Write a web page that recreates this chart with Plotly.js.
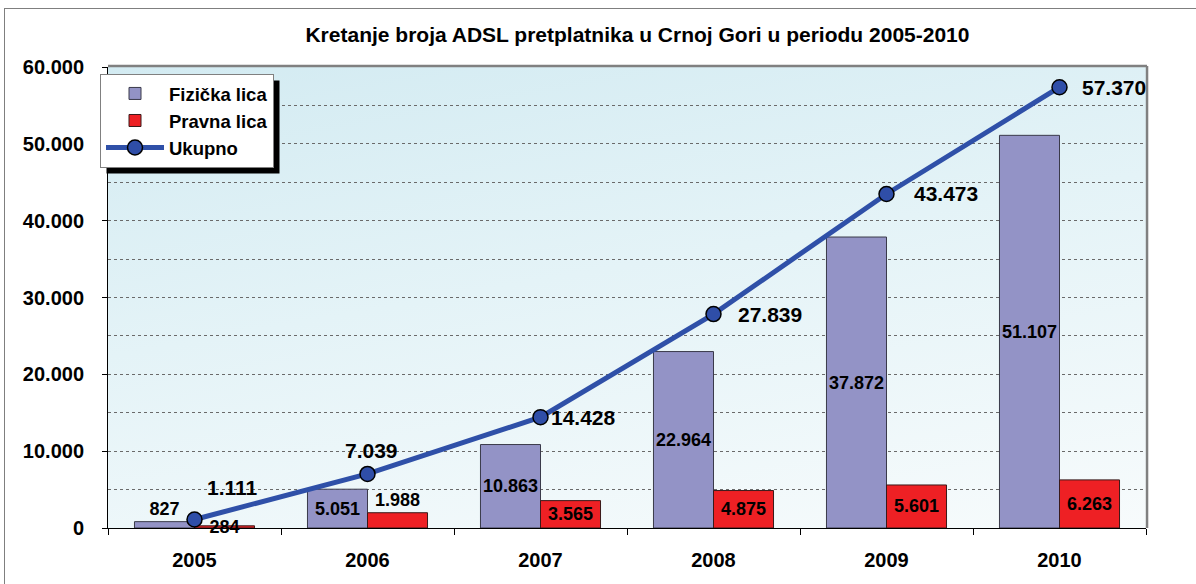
<!DOCTYPE html>
<html>
<head>
<meta charset="utf-8">
<script src="https://cdn.plot.ly/plotly-3.0.1.min.js"></script>
<style>
  html, body { margin:0; padding:0; background:#ffffff; width:1196px; height:584px; overflow:hidden; }
  #frame { position:absolute; left:4px; top:8px; width:1400px; height:800px; border:1.5px solid #7f7f7f; box-sizing:border-box; }
  #grad { position:absolute; left:108px; top:67px; width:1038px; height:461px;
          background: linear-gradient(170deg, #d3ebf2 0%, #e4f3f7 45%, #f7fbfc 100%); }
  #chart { position:absolute; left:0; top:0; width:1196px; height:584px; }
</style>
</head>
<body>
<div id="frame"></div>
<div id="grad"></div>
<div id="chart"></div>
<script>
const years = ['2005', '2006', '2007', '2008', '2009', '2010'];
const fizicka = [827, 5051, 10863, 22964, 37872, 51107];
const pravna = [284, 1988, 3565, 4875, 5601, 6263];
const ukupno = [1111, 7039, 14428, 27839, 43473, 57370];
const seriesNames = ['Fizička lica', 'Pravna lica', 'Ukupno'];
const titleText = 'Kretanje broja ADSL pretplatnika u Crnoj Gori u periodu 2005-2010';

const FONT = 'Liberation Sans, Arial, sans-serif';

// label placement styles (not data)
const fizTextPos = ['outside', 'inside', 'inside', 'inside', 'inside', 'inside'];
const pravTextPos = ['inside', 'outside', 'inside', 'inside', 'inside', 'inside'];
const lineLabelStyle = [
  { xanchor: 'center', xshift: 38, yshift: 32 },
  { xanchor: 'center', xshift: 4, yshift: 23 },
  { xanchor: 'left', xshift: 8, yshift: 0 },
  { xanchor: 'left', xshift: 22, yshift: 0 },
  { xanchor: 'left', xshift: 25, yshift: 0 },
  { xanchor: 'left', xshift: 20, yshift: 0 }
];

function fmt(v) {
  return String(Math.round(v)).replace(/\B(?=(\d{3})+(?!\d))/g, '.');
}

function makeTraces() {
  return [
    {
      type: 'bar', name: seriesNames[0], x: years.slice(), y: fizicka.slice(),
      marker: { color: '#9393c6', line: { color: '#3a3a4a', width: 1 } },
      texttemplate: '%{y:,.0f}', textposition: fizTextPos.slice(),
      insidetextanchor: 'middle', constraintext: 'none', textangle: 0,
      textfont: { family: FONT, size: 18, color: '#000', weight: 'bold' },
      cliponaxis: false, hoverinfo: 'skip'
    },
    {
      type: 'bar', name: seriesNames[1], x: years.slice(), y: pravna.slice(),
      marker: { color: '#ee2024', line: { color: '#3a1a1a', width: 1 } },
      texttemplate: '%{y:,.0f}', textposition: pravTextPos.slice(),
      insidetextanchor: 'middle', constraintext: 'none', textangle: 0,
      textfont: { family: FONT, size: 18, color: '#000', weight: 'bold' },
      cliponaxis: false, hoverinfo: 'skip'
    },
    {
      type: 'scatter', mode: 'lines+markers', name: seriesNames[2], x: years.slice(), y: ukupno.slice(),
      line: { color: '#2f50a8', width: 5 },
      marker: { symbol: 'circle', size: 15, color: '#2f4ea8', line: { color: '#000', width: 1.5 } },
      cliponaxis: false, hoverinfo: 'skip'
    }
  ];
}

function makeLayout(extraShapes) {
  const annotations = years.map((yr, i) => ({
    x: i, y: ukupno[i], xref: 'x', yref: 'y',
    text: fmt(ukupno[i]), showarrow: false,
    xanchor: lineLabelStyle[i].xanchor, yanchor: 'middle',
    xshift: lineLabelStyle[i].xshift, yshift: lineLabelStyle[i].yshift,
    font: { family: FONT, size: 21, color: '#000', weight: 'bold' }
  }));
  return {
    width: 1196, height: 584,
    margin: { l: 108, r: 50, t: 67, b: 56 },
    paper_bgcolor: 'rgba(0,0,0,0)',
    plot_bgcolor: 'rgba(0,0,0,0)',
    separators: ',.',
    font: { family: FONT, color: '#000' },
    title: {
      text: titleText,
      font: { family: FONT, size: 21, color: '#000', weight: 'bold' },
      x: 0.533, xref: 'container', xanchor: 'center',
      y: 0.94, yref: 'container', yanchor: 'middle'
    },
    barmode: 'group', bargap: 0.306, bargroupgap: 0,
    showlegend: true,
    legend: {
      x: -0.0077, y: 0.985, xanchor: 'left', yanchor: 'top',
      bgcolor: '#ffffff', bordercolor: '#808080', borderwidth: 1,
      font: { family: FONT, size: 18.5, color: '#000', weight: 'bold' },
      tracegroupgap: 0, itemwidth: 58, traceorder: 'normal'
    },
    xaxis: {
      type: 'category', range: [-0.5, 5.5], autorange: false,
      showline: true, linecolor: '#000', linewidth: 1,
      ticks: 'outside', tickson: 'boundaries', ticklen: 6, tickcolor: '#000',
      ticklabelstandoff: 14,
      tickfont: { family: FONT, size: 20, color: '#000', weight: 'bold' },
      showgrid: false, zeroline: false
    },
    yaxis: {
      range: [0, 60000], autorange: false, dtick: 10000, tick0: 0,
      tickformat: ',.0f',
      showline: true, linecolor: '#000', linewidth: 1,
      ticks: 'outside', ticklen: 5, tickcolor: '#000',
      ticklabelstandoff: 14,
      tickfont: { family: FONT, size: 20, color: '#000', weight: 'bold' },
      showgrid: true, gridcolor: '#6a6a6a', griddash: 'dot', gridwidth: 1,
      minor: { dtick: 5000, showgrid: true, gridcolor: '#6a6a6a', griddash: 'dot', gridwidth: 1 },
      zeroline: false
    },
    annotations: annotations,
    shapes: [
      { type: 'line', xref: 'paper', yref: 'paper', x0: 0, x1: 1.001, y0: 1.002, y1: 1.002,
        line: { color: '#808080', width: 2.5 } },
      { type: 'line', xref: 'paper', yref: 'paper', x0: 1.001, x1: 1.001, y0: 0, y1: 1.002,
        line: { color: '#808080', width: 2.5 } }
    ].concat(extraShapes || [])
  };
}

const gd = document.getElementById('chart');
const cfg = { displayModeBar: false, staticPlot: true };
Plotly.newPlot(gd, makeTraces(), makeLayout([]), cfg).then(() => {
  const bg = gd.querySelector('.legend .bg');
  if (!bg) return;
  const r = bg.getBoundingClientRect();
  const c = gd.getBoundingClientRect();
  const L = 108, T = 67, W = 1038, H = 461;
  const off = 6;
  const px2x = p => (p - c.left - L) / W;
  const px2y = p => 1 - (p - c.top - T) / H;
  const shadow = {
    type: 'rect', xref: 'paper', yref: 'paper', layer: 'above',
    x0: px2x(r.left + off), x1: px2x(r.right + off),
    y0: px2y(r.bottom + off), y1: px2y(r.top + off),
    fillcolor: '#000', line: { width: 0 }
  };
  Plotly.purge(gd);
  return Plotly.newPlot(gd, makeTraces(), makeLayout([shadow]), cfg);
});
</script>
</body>
</html>
